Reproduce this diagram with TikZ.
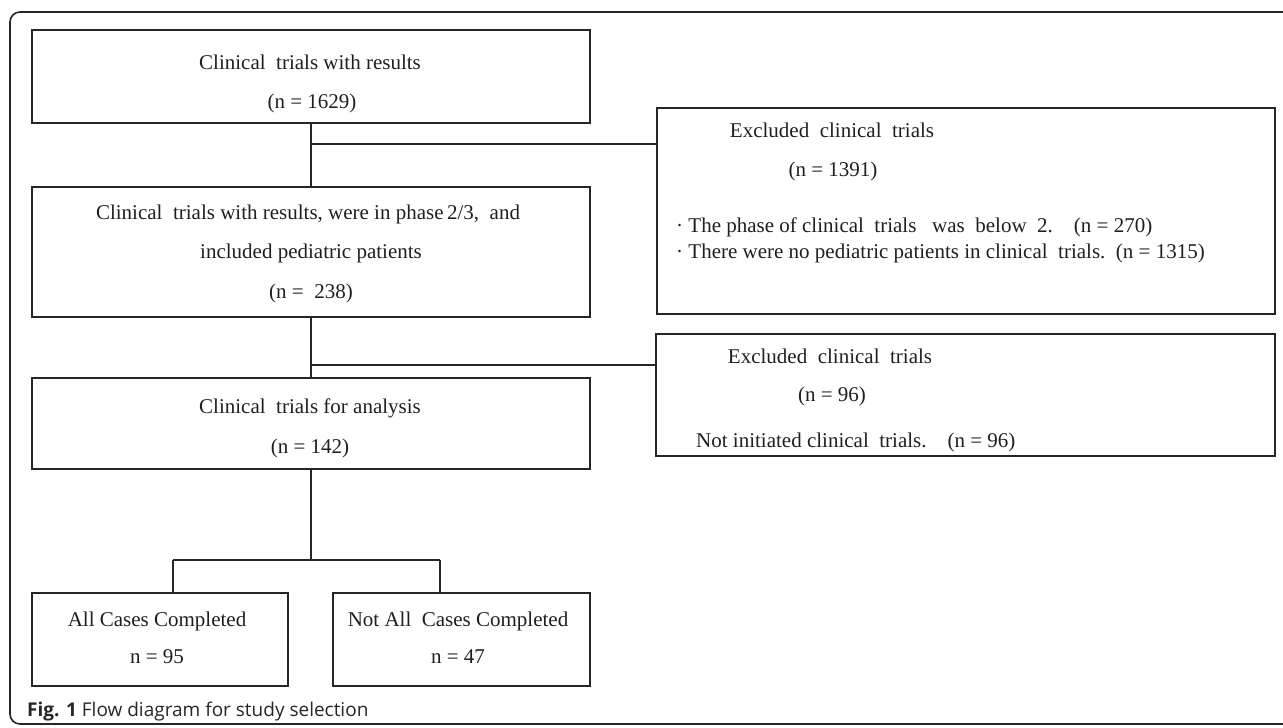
\documentclass[tikz,border=0pt]{standalone}
\usepackage{fontspec}
\setmainfont{Liberation Serif}
\newfontfamily\capfont{Open Sans}
\begin{document}
\begin{tikzpicture}[x=1pt,y=-1pt,
  box/.style={draw=black!85, line width=1.6pt, inner sep=0pt, anchor=north west},
  lbl/.style={font=\fontsize{21}{25}\selectfont, text=black!88, inner sep=0pt},
  link/.style={draw=black!85, line width=1.6pt}]
\useasboundingbox (0,0) rectangle (1283,728);
\begin{scope}
\clip (0,0) rectangle (1283,728);
\draw[line width=1.6pt, draw=black!85, rounded corners=10pt] (10,12) rectangle (1320,724);
\end{scope}
% boxes
\node[box, minimum width=558pt, minimum height=93pt] (b1) at (31,29) {};
\node[box, minimum width=558pt, minimum height=130pt] (b2) at (31,186) {};
\node[box, minimum width=558pt, minimum height=91pt] (b3) at (31,377) {};
\node[box, minimum width=618pt, minimum height=206pt] (r1) at (656,107) {};
\node[box, minimum width=619pt, minimum height=122pt] (r2) at (655,333) {};
\node[box, minimum width=256pt, minimum height=93pt] (b4) at (31,592) {};
\node[box, minimum width=257pt, minimum height=93pt] (b5) at (332,592) {};
% texts
\node[lbl] (t1a) at (310,62) {Clinical\ \ trials with results};
\node[lbl] (t1b) at (312,103) {(n = 1629)};
\node[lbl] (t2a) at (308,214) {Clinical\ \ trials with results, were in phase\,2/3,\ \ and};
\node[lbl] (t2b) at (311,253) {included pediatric patients};
\node[lbl] (t2c) at (311,293) {(n =\ \ 238)};
\node[lbl] (t3a) at (310,408) {Clinical\ \ trials for analysis};
\node[lbl] (t3b) at (310,448) {(n = 142)};
\node[lbl] (r1a) at (832,130) {Excluded\ \ clinical\ \ trials};
\node[lbl] (r1b) at (833,171) {(n = 1391)};
\node[lbl, anchor=west] (r1c) at (676,227) {· The phase of clinical\ \ trials\ \ \ was\ \ below\ \ 2.\ \ \ \ (n = 270)};
\node[lbl, anchor=west] (r1d) at (676,253) {· There were no pediatric patients in clinical\ \ trials.\ \ (n = 1315)};
\node[lbl] (r2a) at (830,356) {Excluded\ \ clinical\ \ trials};
\node[lbl] (r2b) at (832,396) {(n = 96)};
\node[lbl, anchor=west] (r2c) at (696,442) {Not initiated clinical\ \ trials.\ \ \ \ (n = 96)};
\node[lbl] (b4a) at (157,621) {All Cases Completed};
\node[lbl] (b4b) at (157,657) {n = 95};
\node[lbl] (b5a) at (458,621) {Not All\ \ Cases Completed};
\node[lbl] (b5b) at (458,657) {n = 47};
\node[anchor=west, inner sep=0pt, font=\capfont\fontsize{19}{23}\selectfont, text=black!85] (cap) at (27,712) {\textbf{Fig. 1} Flow diagram for study selection};
% connectors
\coordinate (j1) at (310,144);
\coordinate (j2) at (310,365);
\coordinate (j4) at (173,560);
\coordinate (j5) at (440,560);
\draw[link] (b1.south) -- (b2.north);
\draw[link] (j1) -- (j1 -| r1.west);
\draw[link] (b2.south) -- (b3.north);
\draw[link] (j2) -- (j2 -| r2.west);
\draw[link] (b3.south) -- (b3.south |- j4);
\draw[link] (j4) -- (j5);
\draw[link] (j4) -- (j4 |- b4.north);
\draw[link] (j5) -- (j5 |- b5.north);
\end{tikzpicture}
\end{document}
